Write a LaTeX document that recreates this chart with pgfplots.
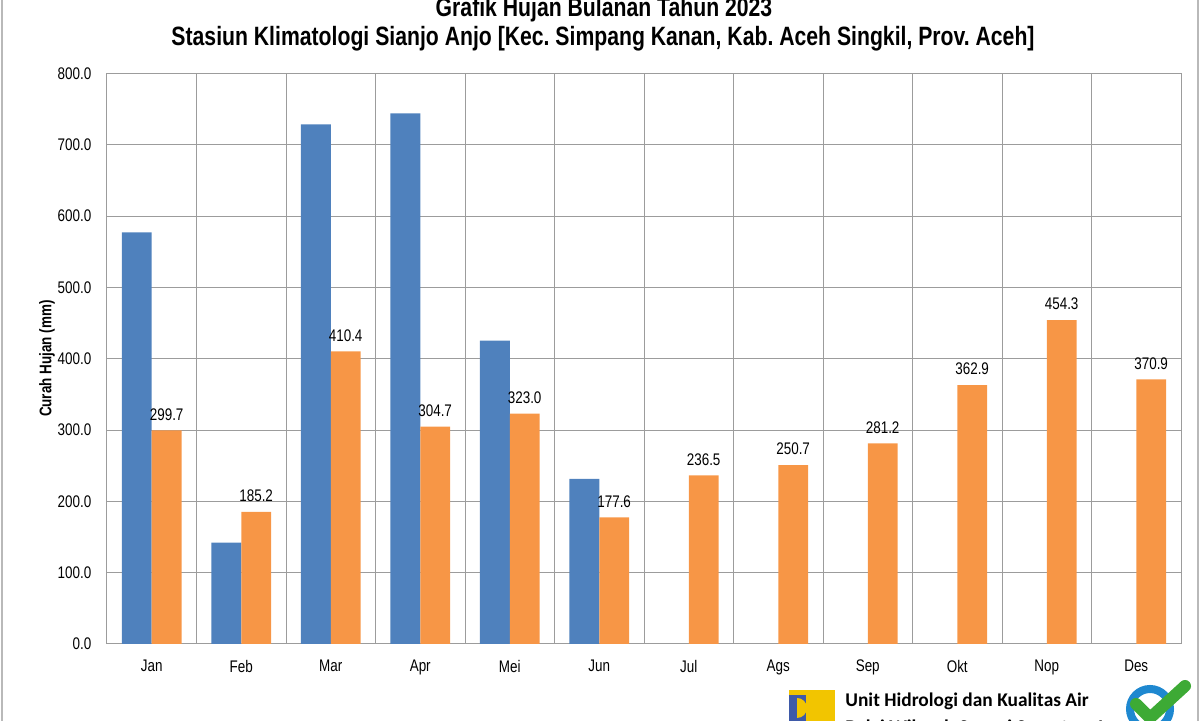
\documentclass[border=0pt]{standalone}
\usepackage{fontspec}
\setmainfont{Liberation Sans}[FakeStretch=0.8]
\newfontfamily\calibri{Carlito}
\usepackage{pgfplots}
\pgfplotsset{compat=1.18}
\definecolor{barblue}{HTML}{4F81BD}
\definecolor{barorange}{HTML}{F79646}
\definecolor{gridgray}{HTML}{9C9C9C}
\definecolor{puyellow}{HTML}{F2C500}
\definecolor{publue}{HTML}{3F5AA8}
\definecolor{isoblue}{HTML}{1E88D0}
\definecolor{isogreen}{HTML}{3DAA35}
\frenchspacing
\begin{document}
\begin{tikzpicture}[x=0.5pt,y=0.5pt]
\useasboundingbox (0,0) rectangle (1200,721);
\clip (0,0) rectangle (1200,721);
% titles
\node[font=\bfseries\fontsize{13.25}{16}\selectfont, anchor=base] at (604,704) {Grafik Hujan Bulanan Tahun 2023};
\node[font=\bfseries\fontsize{13.25}{16}\selectfont, anchor=base] at (603,675) {Stasiun Klimatologi Sianjo Anjo [Kec. Simpang Kanan, Kab. Aceh Singkil, Prov. Aceh]};
\begin{axis}[
  at={(53.5pt,38.5pt)}, anchor=south west,
  scale only axis, width=537pt, height=285.25pt,
  xmin=-0.5, xmax=11.5, ymin=0, ymax=800,
  xtick={0,1,...,11},
  xticklabels={Jan,Feb,Mar,Apr,Mei,Jun,Jul,Ags,Sep,Okt,Nop,Des},
  minor xtick={-0.5,0.5,...,11.5},
  ytick={0,100,...,800},
  xminorgrids, ymajorgrids,
  major tick length=0pt, minor tick length=0pt,
  axis line style={gridgray, line width=0.5pt},
  major grid style={gridgray, line width=0.5pt},
  minor grid style={gridgray, line width=0.5pt},
  tick label style={font=\fontsize{8.4}{10}\selectfont},
  yticklabel style={/pgf/number format/.cd, fixed, fixed zerofill, precision=1, assume math mode=true, /tikz/.cd, xshift=-4.3pt},
  xticklabel style={yshift=-4.5pt},
  ylabel={Curah Hujan (mm)},
  ylabel style={font=\bfseries\fontsize{8.4}{10}\selectfont, at={(axis description cs:-0.0559,0.5)}, anchor=center},
]
\addplot[ybar, fill=barblue, draw=none, bar width=14.9pt, bar shift=-7.45pt]
  coordinates {(0,577.3) (1,142) (2,728.8) (3,744.2) (4,425.4) (5,231.4)};
\addplot[ybar, fill=barorange, draw=none, bar width=14.9pt, bar shift=7.45pt,
  nodes near coords={\pgfmathprintnumber[fixed,fixed zerofill,precision=1,assume math mode=true]{\pgfplotspointmeta}},
  nodes near coords style={font=\fontsize{8.4}{10}\selectfont, text=black, anchor=south, xshift=7.45pt, yshift=1.5pt}]
  coordinates {(0,299.7) (1,185.2) (2,410.4) (3,304.7) (4,323.0) (5,177.6) (6,236.5) (7,250.7) (8,281.2) (9,362.9) (10,454.3) (11,370.9)};
\end{axis}
% outer frame lines
\draw[gray!55, line width=1pt] (2,0) -- (2,721);
\draw[gray!55, line width=1pt] (1198,0) -- (1198,721);
% PU logo
\fill[puyellow] (789,0) rectangle (835,31);
\fill[publue] (789,0) rectangle (806,26);
\fill[puyellow] (797,13) ++(0,-10) arc[start angle=-90, end angle=90, radius=10] -- cycle;
% logo text
\node[font=\calibri\bfseries\fontsize{9.7}{11}\selectfont, anchor=base west, inner sep=0pt] at (845,14) {Unit Hidrologi dan Kualitas Air};
\node[font=\calibri\bfseries\fontsize{9.7}{11}\selectfont, anchor=base west, inner sep=0pt] at (845,-13) {Balai Wilayah Sungai Sumatera I};
% ISO logo
\draw[isoblue, line width=4pt] (1150,12) circle (20);
\draw[isogreen, line width=6pt, line cap=round, line join=round] (1136,17) -- (1150,3) -- (1185,35);
\end{tikzpicture}
\end{document}
